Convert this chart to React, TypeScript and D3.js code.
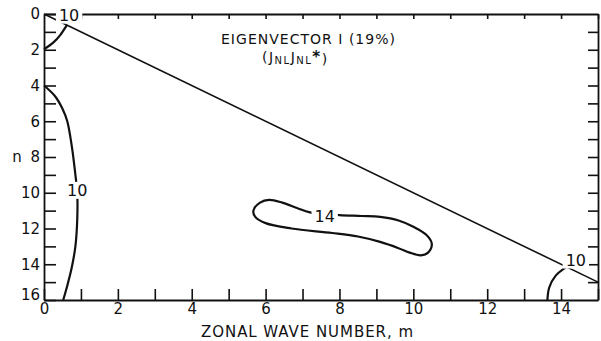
import React, { useRef, useEffect } from "react";
import * as d3 from "d3";

// contour traces, [m, n]
const diagonal: [number, number][] = [[0, 0], [15, 15]];
const contourTopLeft: [number, number][] = [[0, 1.97], [0.25, 1.6], [0.45, 1.15], [0.62, 0.62]];
const contourLeft: [number, number][] = [
  [0, 4], [0.3, 4.6], [0.5, 5.3], [0.63, 6], [0.76, 7.5], [0.85, 9], [0.9, 10],
  [0.9, 11.5], [0.85, 13], [0.75, 14.2], [0.63, 15.2], [0.52, 16],
];
const contourBottomRight: [number, number][] = [[13.63, 16], [13.68, 15.3], [13.85, 14.65], [14.15, 14.15]];
const contour14: [number, number][] = [
  [5.67, 11.0], [5.85, 10.55], [6.1, 10.4], [6.45, 10.55], [6.85, 10.85], [7.2, 11.1],
  [8.0, 11.25], [8.6, 11.3], [9.1, 11.35], [9.6, 11.55], [10.0, 11.9], [10.35, 12.35],
  [10.5, 12.85], [10.4, 13.35], [10.2, 13.5], [9.9, 13.35], [9.6, 13.1], [9.1, 12.75],
  [8.5, 12.45], [7.8, 12.25], [6.7, 12.0], [6.0, 11.7], [5.72, 11.35],
];
// contour labels [m, n, text]
const contourLabels: [number, number, string][] = [
  [0.68, 0.05, "10"],
  [0.9, 9.85, "10"],
  [7.6, 11.3, "14"],
  [14.4, 13.75, "10"],
];

const xTicks = d3.range(0, 16, 1);
const yTicks = d3.range(0, 17, 1);

const App = () => {
  const ref = useRef<SVGSVGElement>(null);

  useEffect(() => {
    const width = 601;
    const height = 341;
    const font = "'DejaVu Sans', sans-serif";

    const svg = d3.select(ref.current).attr("width", width).attr("height", height);
    svg.selectAll("*").remove();

    svg.append("rect").attr("width", width).attr("height", height).attr("fill", "white");

    const x = d3.scaleLinear().domain([0, 15]).range([44, 598]);
    const y = d3.scaleLinear().domain([0, 16]).range([14, 300]);

    const evenLabel = (d: any) => (d % 2 === 0 ? String(d) : "");

    // left axis, ticks inward
    const gl = svg.append("g").attr("transform", `translate(${x(0)},0)`)
      .call(d3.axisLeft(y).tickValues(yTicks).tickSizeInner(-12).tickSizeOuter(0).tickPadding(4).tickFormat(evenLabel));
    gl.selectAll("text").filter((d: any) => d === 16).attr("dy", "-0.05em");

    // bottom axis, ticks inward
    svg.append("g").attr("transform", `translate(0,${y(16)})`)
      .call(d3.axisBottom(x).tickValues(xTicks).tickSizeInner(-11).tickSizeOuter(0).tickPadding(3).tickFormat(evenLabel));

    // top and right frame
    svg.append("g").attr("transform", `translate(0,${y(0)})`)
      .call(d3.axisTop(x).tickValues(xTicks.filter(d => d > 0)).tickSizeInner(-5).tickSizeOuter(0).tickFormat(() => ""));
    svg.append("g").attr("transform", `translate(${x(15)},0)`)
      .call(d3.axisRight(y).tickValues(yTicks.filter(d => d > 0 && d < 16)).tickSizeInner(-10).tickSizeOuter(0).tickFormat(() => ""));

    svg.selectAll(".domain").attr("stroke", "#111").attr("stroke-width", 1.8);
    svg.selectAll(".tick line").attr("stroke", "#111").attr("stroke-width", 1.6);
    svg.selectAll(".tick text").attr("fill", "#111").style("font-family", font).style("font-size", "15px");

    svg.append("text").attr("x", 17).attr("y", y(8)).attr("dy", "0.32em")
      .attr("text-anchor", "middle").attr("fill", "#111")
      .style("font-family", font).style("font-size", "15px").text("n");

    // diagonal
    const straight = d3.line().x(d => x(d[0])).y(d => y(d[1]));
    svg.append("path").datum(diagonal).attr("d", straight as any)
      .attr("fill", "none").attr("stroke", "#111").attr("stroke-width", 1.6);

    const open = d3.line().x(d => x(d[0])).y(d => y(d[1])).curve(d3.curveCatmullRom);
    const closed = d3.line().x(d => x(d[0])).y(d => y(d[1])).curve(d3.curveCatmullRomClosed);

    [contourTopLeft, contourLeft, contourBottomRight].forEach(c => {
      svg.append("path").datum(c).attr("d", open as any)
        .attr("fill", "none").attr("stroke", "#111").attr("stroke-width", 2.2);
    });
    svg.append("path").datum(contour14).attr("d", closed as any)
      .attr("fill", "none").attr("stroke", "#111").attr("stroke-width", 2.2);

    // contour labels with white knock-out
    contourLabels.forEach(([m, n, t]) => {
      const g = svg.append("g");
      const bg = g.append("rect").attr("fill", "white");
      const txt = g.append("text").attr("x", x(m)).attr("y", y(n)).attr("dy", "0.36em")
        .attr("text-anchor", "middle").attr("fill", "#111")
        .style("font-family", font).style("font-size", "16px").text(t);
      const b = (txt.node() as SVGTextElement).getBBox();
      bg.attr("x", b.x - 3).attr("y", b.y + 1).attr("width", b.width + 6).attr("height", b.height - 2);
    });

    // title
    svg.append("text").attr("x", 221).attr("y", 44).attr("textLength", 174)
      .attr("fill", "#111").style("font-family", font).style("font-size", "14px")
      .text("EIGENVECTOR I (19%)");
    const sub = svg.append("text").attr("x", 262).attr("y", 62).attr("fill", "#111")
      .style("font-family", font).style("font-size", "14px").style("letter-spacing", "1.5px");
    sub.append("tspan").text("(J");
    sub.append("tspan").attr("dy", 2).style("font-size", "10px").text("NL");
    sub.append("tspan").attr("dy", -2).text("J");
    sub.append("tspan").attr("dy", 2).style("font-size", "10px").text("NL");
    sub.append("tspan").attr("dy", -2).style("font-size", "15px").style("font-weight", "bold").text("*");
    sub.append("tspan").attr("dy", 2).text(")");

    // x axis title
    svg.append("text").attr("x", 201).attr("y", 337).attr("textLength", 212)
      .attr("fill", "#111").style("font-family", font).style("font-size", "15px")
      .text("ZONAL WAVE NUMBER, m");
  }, []);

  return (
    <div style={{ position: "absolute", left: 0, top: 0 }}>
      <svg ref={ref}></svg>
    </div>
  );
};

export default App;
